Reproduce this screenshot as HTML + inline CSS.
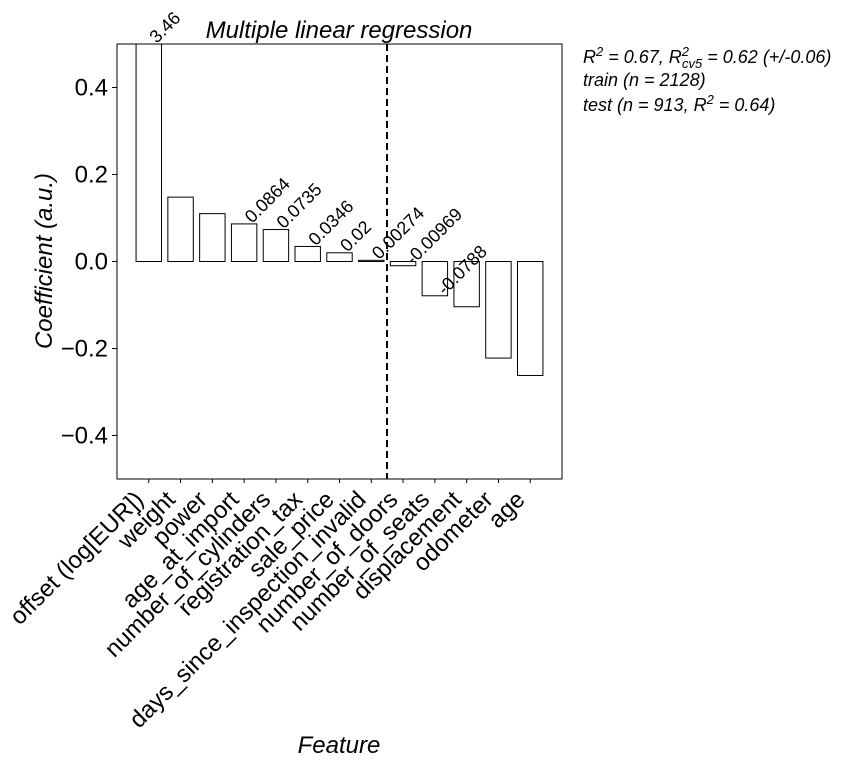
<!DOCTYPE html>
<html><head><meta charset="utf-8"><style>
body{margin:0;background:#fff;}
svg{display:block;font-family:"Liberation Sans",Arial,sans-serif;}
</style></head><body>
<svg id="chart" width="843" height="765" viewBox="0 0 843 765">
<rect width="843" height="765" fill="#fff"/>
<text x="339" y="38" font-size="24" font-style="italic" text-anchor="middle">Multiple linear regression</text>
<g id="bars"></g>
<g id="labels"></g>
<g id="yticks"></g>
<g id="xticks"></g>
<line x1="387" y1="44" x2="387" y2="479" stroke="#000" stroke-width="2" stroke-dasharray="7,4"/>
<rect x="117" y="44" width="445" height="435" fill="none" stroke="#000" stroke-width="1"/>
<text transform="translate(52,261) rotate(-90)" font-size="24" font-style="italic" text-anchor="middle">Coefficient (a.u.)</text>
<text x="339" y="753" font-size="24" font-style="italic" text-anchor="middle">Feature</text>
<g font-size="18" font-style="italic">
<text x="583" y="63">R<tspan dy="-7" font-size="13">2</tspan><tspan dy="7"> = 0.67, R</tspan><tspan dy="-7" font-size="13">2</tspan><tspan dx="-7" dy="12" font-size="13">cv5</tspan><tspan dy="-5"> = 0.62 (+/-0.06)</tspan></text>
<text x="583" y="86">train (n = 2128)</text>
<text x="583" y="111">test (n = 913, R<tspan dy="-7" font-size="13">2</tspan><tspan dy="7"> = 0.64)</tspan></text>
</g>
</svg>
<script>
const categories=["offset (log[EUR])","weight","power","age_at_import","number_of_cylinders","registration_tax","sale_price","days_since_inspection_invalid","number_of_doors","number_of_seats","displacement","odometer","age"];
const values=[3.46,0.148,0.110,0.0864,0.0735,0.0346,0.02,0.00274,-0.00969,-0.0788,-0.104,-0.222,-0.262];
const labelTexts=["3.46","","","0.0864","0.0735","0.0346","0.02","0.00274","-0.00969","-0.0788","","",""];
const yTicks=[0.4,0.2,0.0,-0.2,-0.4];
const yTickLabels=["0.4","0.2","0.0","\u22120.2","\u22120.4"];
const NS="http://www.w3.org/2000/svg";
const X0=117,X1=562,Y0=44,Y1=479;
function xs(i){return X0+(i+1)/14*(X1-X0);}
function ys(v){return Y1-(v+0.5)*(Y1-Y0);}
function clampY(v){return Math.max(Y0,Math.min(Y1,ys(v)));}
function mk(tag,attrs,parent){const e=document.createElementNS(NS,tag);for(const k in attrs)e.setAttribute(k,attrs[k]);parent.appendChild(e);return e;}
const bw=0.8*(X1-X0)/14;
const gb=document.getElementById('bars'),gl=document.getElementById('labels'),gy=document.getElementById('yticks'),gx=document.getElementById('xticks');
values.forEach((v,i)=>{
 const cx=xs(i);const ya=clampY(v),yb=ys(0);
 const r=mk('rect',{x:cx-bw/2,y:Math.min(ya,yb),width:bw,height:Math.max(Math.abs(yb-ya),1),fill:'#fff',stroke:'#000','stroke-width':1},gb);
 
 
 if(labelTexts[i]){
  const ax=v>=0?cx+8:cx+10, ay=ya;
  const t=mk('text',{transform:`translate(${ax},${ay}) rotate(-45)`,'font-size':18},gl);
  t.textContent=labelTexts[i];
  
  
 }
 mk('line',{x1:cx,y1:Y1,x2:cx,y2:Y1+4,stroke:'#000'},gx);
 const tl=mk('text',{transform:`translate(${cx-4},${Y1+22}) rotate(-45)`,'font-size':24,'text-anchor':'end'},gx);
 tl.textContent=categories[i];
 
 
});
yTicks.forEach((v,i)=>{
 const y=ys(v);
 mk('line',{x1:X0-5,y1:y,x2:X0,y2:y,stroke:'#000'},gy);
 const t=mk('text',{x:X0-9,y:y+8,'font-size':24,'text-anchor':'end'},gy);
 t.textContent=yTickLabels[i];
 
 
});
</script>
</body></html>
